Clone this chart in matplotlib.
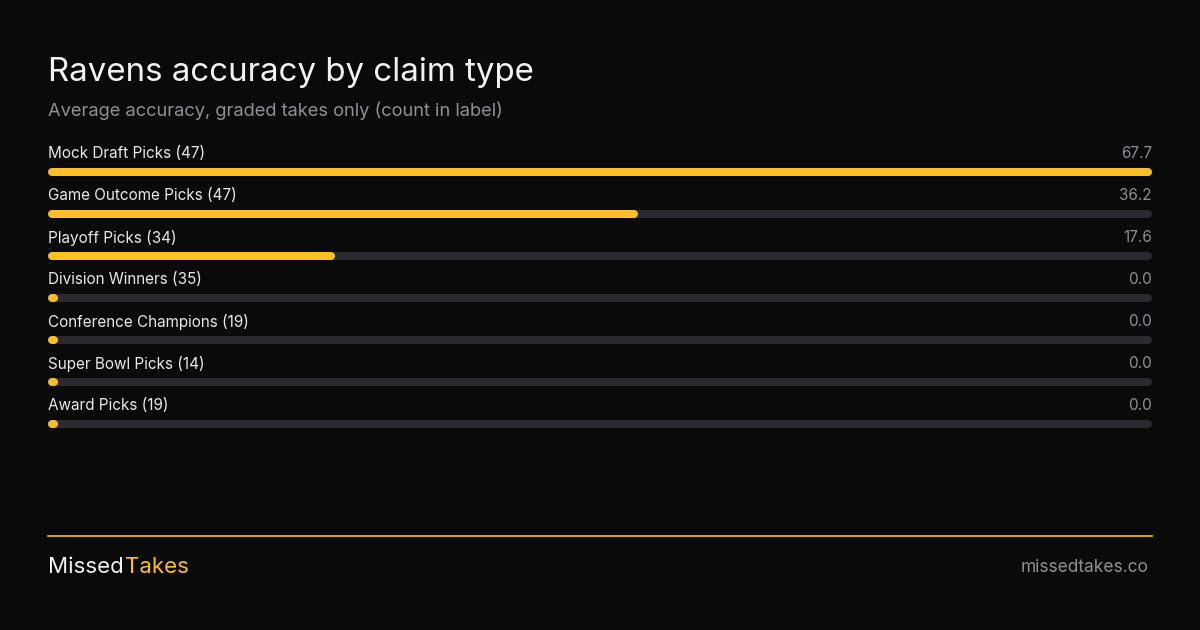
import matplotlib.pyplot as plt

categories = ["Mock Draft Picks", "Game Outcome Picks", "Playoff Picks", "Division Winners",
              "Conference Champions", "Super Bowl Picks", "Award Picks"]
counts = [47, 47, 34, 35, 19, 14, 19]
accuracy = [67.7, 36.2, 17.6, 0.0, 0.0, 0.0, 0.0]

BG = "#0a0a0a"
YELLOW = "#fbbf24"
TRACK = "#2b2a31"
GREY = "#8f8f96"

plt.rcParams['font.family'] = ['Inter', 'DejaVu Sans']
W, H = 1200, 630
fig = plt.figure(figsize=(12, 6.3), dpi=100, facecolor=BG)

# full-figure overlay in pixel coordinates for text
bg = fig.add_axes([0, 0, 1, 1])
bg.set_xlim(0, W)
bg.set_ylim(H, 0)
bg.axis('off')

bg.text(48, 73, "Ravens accuracy by claim type", color="#f2f2f2", fontsize=23.8, va='center')
bg.text(48, 111, "Average accuracy, graded takes only (count in label)", color=GREY, fontsize=13.2, va='center')

# bars axes: x 48..1152 px, y 140..440 px
left, right, top, bottom = 48, 1152, 140, 440
ax = fig.add_axes([left / W, 1 - bottom / H, (right - left) / W, (bottom - top) / H])
ax.set_facecolor('none')
ax.axis('off')
vmax = max(accuracy)
pad = 4 / (right - left) * vmax
ax.set_xlim(0, vmax)
ax.set_ylim(bottom, top)
lw = 8 * 72 / 100
for i, (c, n, v) in enumerate(zip(categories, counts, accuracy)):
    yb = 172 + 42 * i
    ax.plot([pad, vmax - pad], [yb, yb], color=TRACK, lw=lw, solid_capstyle='round')
    ax.plot([pad, max(v - pad, pad * 1.5)], [yb, yb], color=YELLOW, lw=lw, solid_capstyle='round')
    ax.text(0, yb - 18, f"{c} ({n})", color="#e8e8e8", fontsize=11, va='center', ha='left')
    ax.text(vmax, yb - 18, f"{v:.1f}", color=GREY, fontsize=11, va='center', ha='right')

bg.plot([48, 1152], [536, 536], color=YELLOW, lw=1.2)
t = bg.text(48, 567, "Missed", color="#f2f2f2", fontsize=16, va='center')
fig.canvas.draw()
bb = t.get_window_extent()
bg.text(bb.x1 + 1, 567, "Takes", color=YELLOW, fontsize=16, va='center')
bg.text(1148, 567, "missedtakes.co", color=GREY, fontsize=12.5, va='center', ha='right')

fig.savefig("out.png", dpi=100, facecolor=BG)
